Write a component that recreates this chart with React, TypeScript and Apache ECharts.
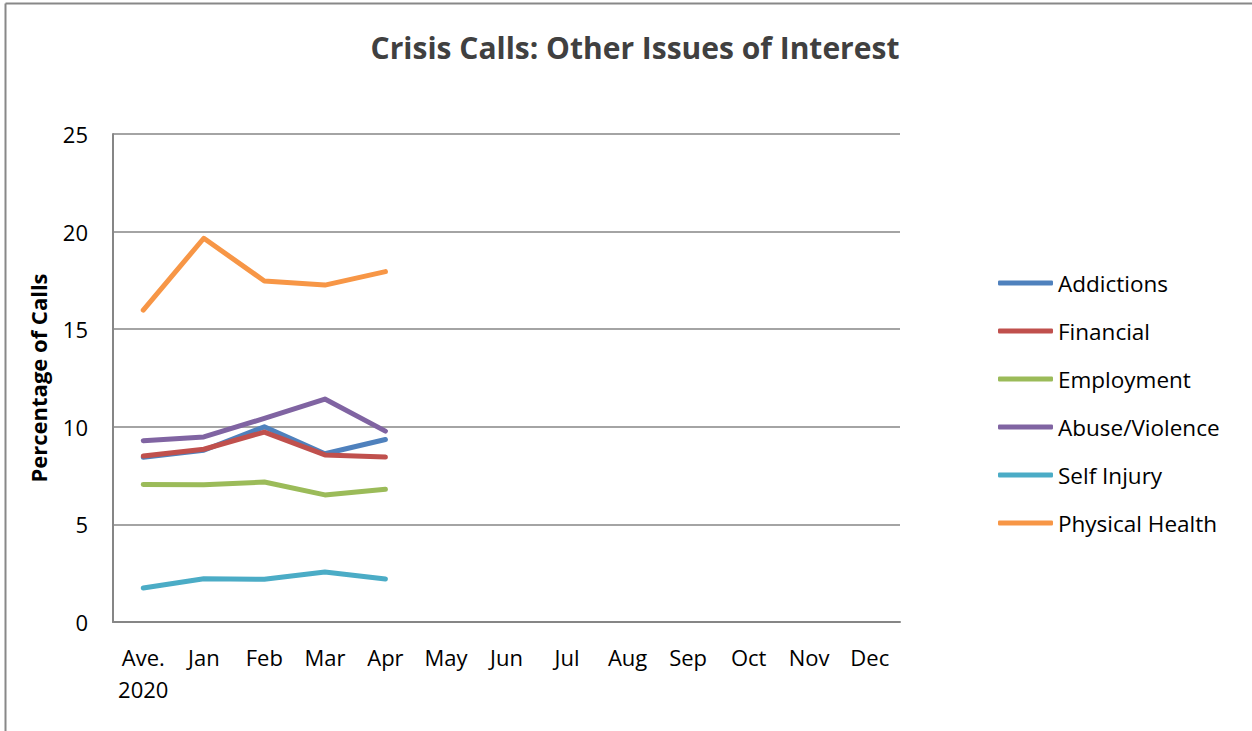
import React, { useEffect, useRef } from "react";
import * as echarts from "echarts";

const categories = ["Ave.\n2020", "Jan", "Feb", "Mar", "Apr", "May", "Jun", "Jul", "Aug", "Sep", "Oct", "Nov", "Dec"];
const addictions = [8.44, 8.8, 10.0, 8.62, 9.35];
const financial = [8.5, 8.85, 9.73, 8.56, 8.45];
const employment = [7.05, 7.03, 7.17, 6.51, 6.8];
const abuseViolence = [9.29, 9.48, 10.43, 11.42, 9.78];
const selfInjury = [1.74, 2.22, 2.19, 2.56, 2.2];
const physicalHealth = [15.98, 19.66, 17.47, 17.26, 17.95];
const seriesNames = ["Addictions", "Financial", "Employment", "Abuse/Violence", "Self Injury", "Physical Health"];
const colors = ["#4F81BD", "#C0504D", "#9BBB59", "#8064A2", "#4BACC6", "#F79646"];

export default function App() {
  const ref = useRef<HTMLDivElement>(null);
  useEffect(() => {
    document.body.style.margin = "0";
    const chart = echarts.init(ref.current!, null, { renderer: "svg" });
    const data = [addictions, financial, employment, abuseViolence, selfInjury, physicalHealth];
    const font = "'Open Sans', sans-serif";
    chart.setOption({
      animation: false,
      color: colors,
      title: {
        text: "Crisis Calls: Other Issues of Interest",
        left: 630,
        textAlign: "center",
        top: 27,
        textStyle: { fontFamily: font, fontSize: 30, fontWeight: "bold", color: "#404040" },
      },
      graphic: [
        { type: "line", shape: { x1: 5.5, y1: 3.5, x2: 1252, y2: 3.5 }, style: { stroke: "#888888", lineWidth: 2 } },
        { type: "line", shape: { x1: 5.5, y1: 3.5, x2: 5.5, y2: 731 }, style: { stroke: "#888888", lineWidth: 2 } },
      ],
      grid: { left: 113, right: 352, top: 134, bottom: 109 },
      legend: {
        orient: "vertical",
        left: 998,
        top: 271,
        padding: 0,
        icon: "roundRect",
        itemWidth: 55,
        itemHeight: 5,
        itemGap: 24,
        data: seriesNames,
        textStyle: { fontFamily: font, fontSize: 22.5, color: "#000", lineHeight: 24 },
      },
      xAxis: {
        type: "category",
        data: categories,
        boundaryGap: true,
        axisLine: { lineStyle: { color: "#868686", width: 2 } },
        axisTick: { show: false },
        axisLabel: { fontFamily: font, fontSize: 22, color: "#000", margin: 19, lineHeight: 32, interval: 0 },
      },
      yAxis: {
        type: "value",
        min: 0,
        max: 25,
        interval: 5,
        name: "Percentage of Calls",
        nameLocation: "middle",
        nameGap: 64,
        nameTextStyle: { fontFamily: font, fontSize: 22, fontWeight: "bold", color: "#000" },
        axisLine: { show: true, lineStyle: { color: "#868686", width: 2 } },
        axisTick: { show: false },
        splitLine: { lineStyle: { color: "#868686", width: 1.5 } },
        axisLabel: { fontFamily: font, fontSize: 22, color: "#000", margin: 25 },
      },
      series: seriesNames.map((name, i) => ({
        name,
        type: "line",
        data: data[i],
        showSymbol: false,
        symbol: "none",
        lineStyle: { width: 5, color: colors[i], cap: "round", join: "round" },
        itemStyle: { color: colors[i] },
      })),
    });
    return () => chart.dispose();
  }, []);
  return <div ref={ref} style={{ width: 1252, height: 731 }} />;
}
